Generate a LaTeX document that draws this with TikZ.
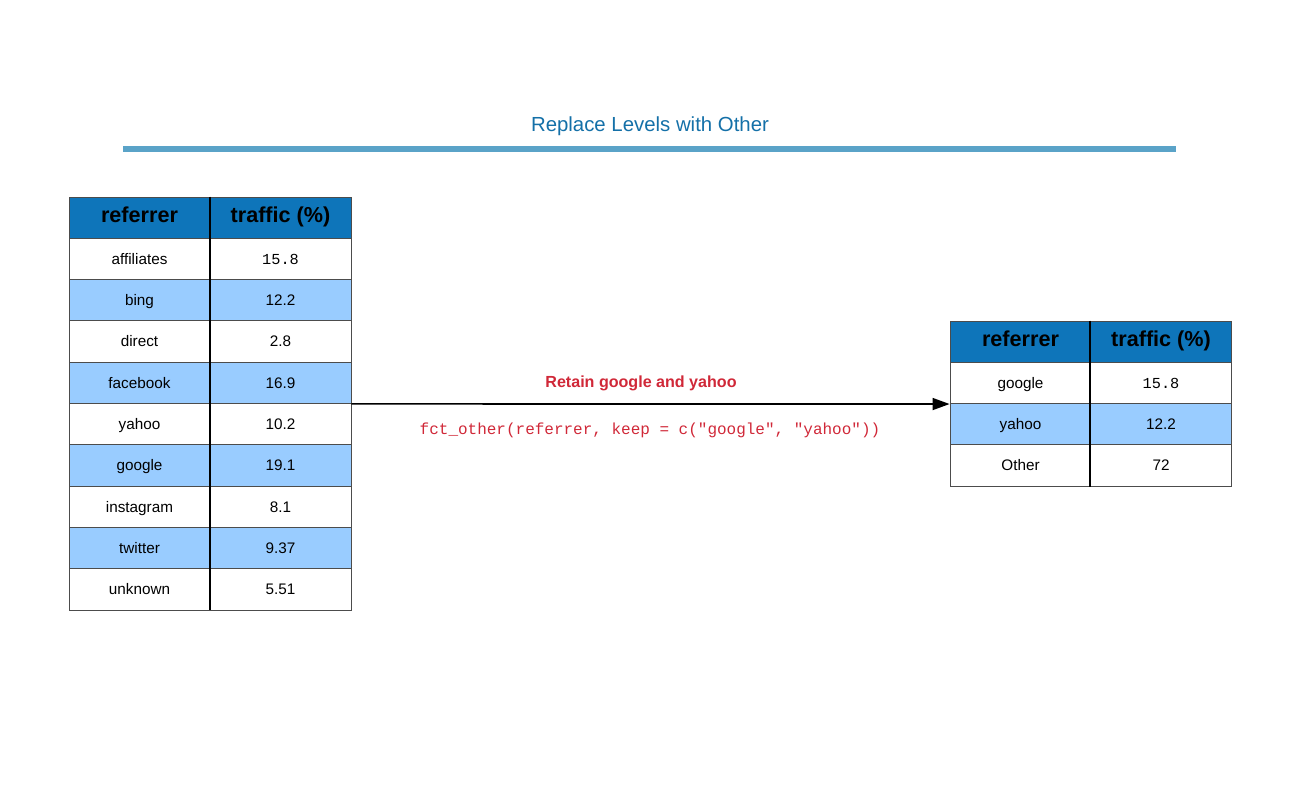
\documentclass[tikz,border=0pt]{standalone}
\usepackage{fontspec}
\setmainfont{Liberation Sans}
\setmonofont{Liberation Mono}
\usepackage{xcolor}
\usetikzlibrary{arrows.meta}
\definecolor{headblue}{RGB}{14,117,186}
\definecolor{rowblue}{RGB}{153,204,255}
\definecolor{titleblue}{RGB}{20,112,168}
\definecolor{ruleblue}{RGB}{90,163,200}
\definecolor{codered}{RGB}{208,40,56}

\begin{document}
\begin{tikzpicture}[x=0.02cm, y=-0.02cm,
  cell/.style={draw=black!70, line width=0.5pt, rectangle, minimum width=2.82cm, minimum height=0.826cm, inner sep=0pt, text height=1.6ex, text depth=0.45ex, font=\fontsize{8.7}{10}\selectfont},
  head/.style={cell, fill=headblue, font=\fontsize{12.3}{14}\selectfont\bfseries}]
\useasboundingbox (0,0) rectangle (1300,800);
% title and rule
\node[text=titleblue, font=\fontsize{11.6}{13}\selectfont] (title) at (650,126) {Replace Levels with Other};
\draw[ruleblue, line width=3pt] (123,149) -- (1176,149);
% left table
\node[head] (lref0) at (139.5,217.65) {referrer};
\node[head] (lval0) at (280.5,217.65) {traffic (\%)};
\foreach \i/\r/\v/\c in {1/affiliates/{\texttt{15.8}}/white, 2/bing/12.2/rowblue, 3/direct/2.8/white, 4/facebook/16.9/rowblue, 5/yahoo/10.2/white, 6/google/19.1/rowblue, 7/instagram/8.1/white, 8/twitter/9.37/rowblue, 9/unknown/5.51/white} {
  \node[cell, fill=\c] (lref\i) at (139.5,217.65+41.3*\i) {\r};
  \node[cell, fill=\c] (lval\i) at (280.5,217.65+41.3*\i) {\v};
}
\draw[line width=1.2pt] (lval0.north west) -- (lval9.south west);
% right table
\node[head] (rref0) at (1020.5,341.65) {referrer};
\node[head] (rval0) at (1161,341.65) {traffic (\%)};
\foreach \i/\r/\v/\c in {1/google/{\texttt{15.8}}/white, 2/yahoo/12.2/rowblue, 3/Other/72/white} {
  \node[cell, fill=\c] (rref\i) at (1020.5,341.65+41.3*\i) {\r};
  \node[cell, fill=\c] (rval\i) at (1161,341.65+41.3*\i) {\v};
}
\draw[line width=1.2pt] (rval0.north west) -- (rval3.south west);
% arrow and labels
\draw[-{Triangle[length=0.34cm, width=0.24cm]}, line width=0.9pt] (lval4.south east) -- (rref1.south west);
\node[text=codered, font=\fontsize{9.15}{11}\selectfont\bfseries] (keeplabel) at (641,383) {Retain google and yahoo};
\node[text=codered, font=\fontsize{9.1}{11}\selectfont\ttfamily] (keepcode) at (650,430) {fct\_other(referrer, keep = c("google", "yahoo"))};
\end{tikzpicture}
\end{document}
